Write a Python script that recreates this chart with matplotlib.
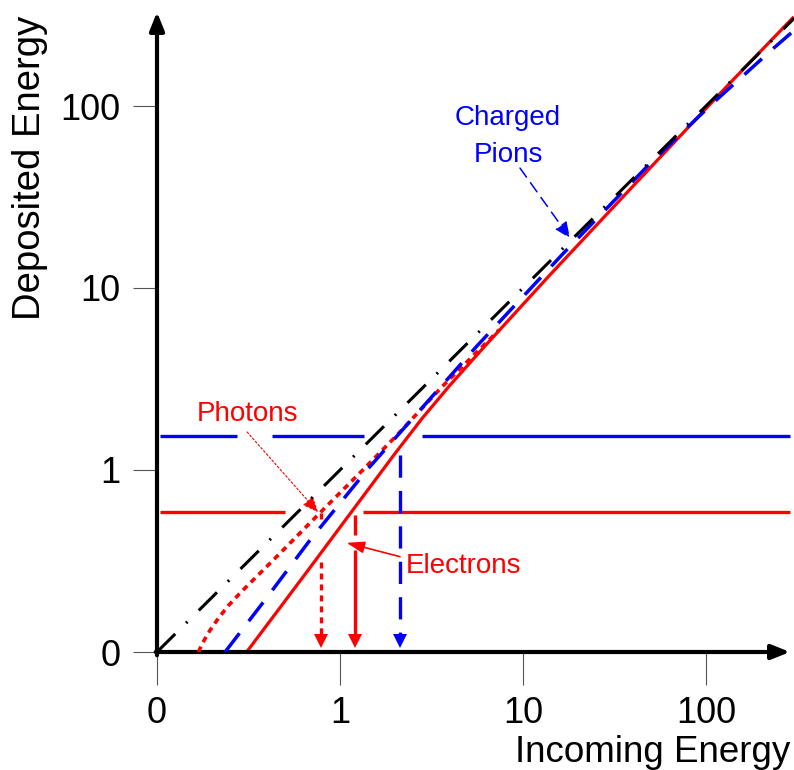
import matplotlib
matplotlib.use("Agg")
import matplotlib.pyplot as plt
from matplotlib.transforms import ScaledTranslation
from matplotlib.ticker import NullLocator

plt.rcParams['font.family'] = ['Liberation Sans', 'DejaVu Sans']
plt.rcParams['lines.scale_dashes'] = False

# ---------------- data (log-log, the "0" label sits at 0.1) ----------------
tick_values = [0.1, 1, 10, 100]
tick_labels = ['0', '1', '10', '100']

ideal_in = [0.1, 303]
ideal_dep = [0.1, 303]

electron_in = [0.309, 0.631, 1.259, 1.995, 2.818, 3.981, 6.31, 14.13, 41.69, 134.9, 302]
electron_dep = [0.1, 0.26, 0.661, 1.23, 1.928, 2.917, 4.898, 11.89, 38.02, 133.4, 309]

photon_in = [0.1683, 0.1799, 0.195, 0.2163, 0.2455, 0.2884, 0.3548, 0.4467, 0.785,
             1.318, 2.042, 3.631, 7.413]
photon_dep = [0.1, 0.1148, 0.1318, 0.1531, 0.1799, 0.2138, 0.263, 0.3311, 0.5875,
              0.989, 1.549, 2.884, 5.89]

pion_in = [0.2355, 0.389, 0.6855, 1.429, 2.793, 5.585, 16.6, 50.5, 107.4, 235.5, 302.7]
pion_dep = [0.1, 0.193, 0.412, 1.021, 2.183, 4.786, 15.49, 49.4, 102.3, 208.9, 260.0]

em_level = 0.587
pion_level = 1.54
level_span = [0.1038, 287.7]
em_level_gaps = [(0.5, 1.336)]
pion_level_gaps = [(0.2735, 0.4246), (1.352, 2.805)]

photon_cross = 0.785
electron_cross = 1.208
pion_cross = 2.13
photon_drop = [(0.581, 0.512), (0.3126, None)]
electron_drop = [(0.566, 0.4395), (0.363, None)]
pion_drop = [(1.209, None)]

RED = '#FF0000'
BLUE = '#0000FF'

# ---------------- figure ----------------
W, H = 794, 770
fig = plt.figure(figsize=(W / 100, H / 100), dpi=100)
x0, x1, y0, y1 = 157, 794, 652, 0
ax = fig.add_axes([x0 / W, 1 - y0 / H, (x1 - x0) / W, (y0 - y1) / H])
ax.set_xscale('log')
ax.set_yscale('log')
ax.set_xlim(0.1, 10 ** ((x1 - x0) / 183 - 1))
ax.set_ylim(0.1, 10 ** ((y0 - y1) / 182 - 1))
for s in ax.spines.values():
    s.set_visible(False)
ax.patch.set_alpha(0)

ax.set_xticks(tick_values, tick_labels)
ax.set_yticks(tick_values, tick_labels)
ax.xaxis.set_minor_locator(NullLocator())
ax.yaxis.set_minor_locator(NullLocator())
ax.tick_params(axis='x', direction='out', length=24, width=0.8, color='#555555',
               pad=8, labelsize=26)
ax.tick_params(axis='y', direction='out', length=17, width=0.8, color='#555555',
               pad=9.5, labelsize=26)

# axes with arrows
arrow_style = '-|>,head_length=0.55,head_width=0.22'
ax.annotate('', xy=(0.9937, 0), xytext=(-0.002, 0), xycoords='axes fraction',
            arrowprops=dict(arrowstyle=arrow_style, lw=3, color='black',
                            shrinkA=0, shrinkB=0, mutation_scale=20), annotation_clip=False)
ax.annotate('', xy=(0, 0.9816), xytext=(0, -0.005), xycoords='axes fraction',
            arrowprops=dict(arrowstyle=arrow_style, lw=3, color='black',
                            shrinkA=0, shrinkB=0, mutation_scale=20), annotation_clip=False)


# horizontal level lines with gaps
def gapped(level, gaps, color):
    xs = [level_span[0]]
    for a, b in gaps:
        xs += [a, b]
    xs.append(level_span[1])
    for i in range(0, len(xs), 2):
        ax.plot([xs[i], xs[i + 1]], [level, level], color=color, lw=2.4,
                solid_capstyle='butt', zorder=1)


gapped(pion_level, pion_level_gaps, BLUE)
gapped(em_level, em_level_gaps, RED)

# curves
ax.plot(electron_in, electron_dep, color=RED, lw=2.3, zorder=2, solid_capstyle='butt',
        solid_joinstyle='round')
ax.plot(photon_in, photon_dep, color=RED, lw=2.6, ls=(0, (4.3, 3.6)), zorder=3)
ax.plot(pion_in, pion_dep, color=BLUE, lw=2.5, ls=(0, (17, 11)), zorder=4)
ax.plot(ideal_in, ideal_dep, color='black', lw=2.2,
        ls=(0, (18.5, 11, 1.4, 11.5)), zorder=5)

# vertical arrows down to the axis
HEAD = 10.5          # marker size in points
HEAD_CENTER = 7.6    # points above the axis


def shaft_end(x):
    px = ax.transData.transform((x, 0.1))
    return ax.transData.inverted().transform((px[0], px[1] + HEAD_CENTER * 100 / 72))[1]


def drop(x, pieces, color, ls):
    end = shaft_end(x)
    for top, bot in pieces:
        ax.plot([x, x], [top, bot if bot is not None else end], color=color,
                lw=2.4, ls=ls, zorder=6, solid_capstyle='butt')
    ax.plot([x], [0.1], marker='v', markersize=HEAD, color=color, mew=0,
            transform=ax.transData + ScaledTranslation(0, HEAD_CENTER / 72, fig.dpi_scale_trans),
            zorder=6, clip_on=False)


drop(photon_cross, photon_drop, RED, (0, (4.3, 3.6)))
drop(electron_cross, electron_drop, RED, '-')
drop(pion_cross, pion_drop, BLUE, (0, (16, 9.5)))

# annotations
tf = dict(fontsize=20)
ax.text(8.28, 78.6, 'Charged', color=BLUE, ha='center', va='baseline', **tf)
ax.text(8.28, 49.4, 'Pions', color=BLUE, ha='center', va='baseline', **tf)
ax.annotate('', xy=(18.07, 18.8), xytext=(9.63, 45.6),
            arrowprops=dict(arrowstyle='-|>,head_length=0.8,head_width=0.35',
                            color=BLUE, lw=1.1, ls=(0, (8, 5)),
                            shrinkA=0, shrinkB=0, mutation_scale=12))

ax.text(0.314, 1.858, 'Photons', color=RED, ha='center', va='baseline', **tf)
ax.annotate('', xy=(0.758, 0.587), xytext=(0.3105, 1.618),
            arrowprops=dict(arrowstyle='-|>,head_length=0.8,head_width=0.35',
                            color=RED, lw=0.8, ls=(0, (1.5, 1.5)),
                            shrinkA=0, shrinkB=0, mutation_scale=12))

ax.text(2.295, 0.2717, 'Electrons', color=RED, ha='left', va='baseline', **tf)
ax.annotate('', xy=(1.088, 0.398), xytext=(2.128, 0.334),
            arrowprops=dict(arrowstyle='-|>,head_length=0.9,head_width=0.3',
                            color=RED, lw=1.2,
                            shrinkA=0, shrinkB=0, mutation_scale=12))

# axis titles
fig.text(790 / W, 1 - 762 / H, 'Incoming Energy', ha='right', va='baseline', fontsize=26.5)
fig.text(30 / W, 1 - 167.5 / H, 'Deposited Energy', ha='center', va='center',
         rotation=90, fontsize=27.5)

fig.savefig('out.png', dpi=100)
